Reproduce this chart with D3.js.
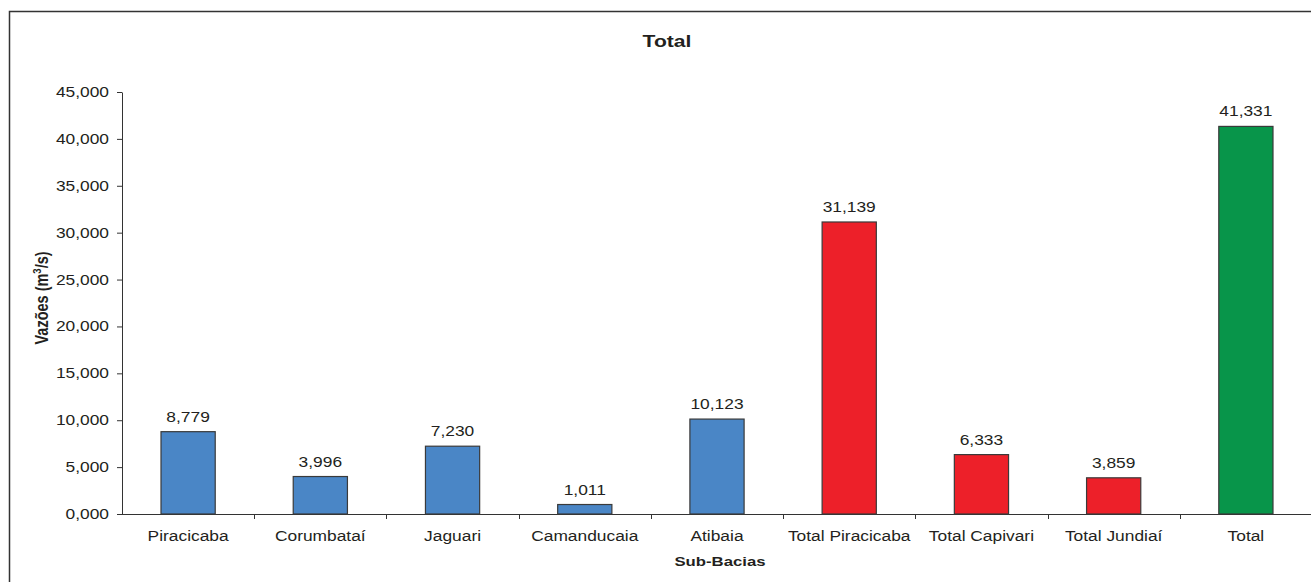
<!DOCTYPE html>
<html>
<head>
<meta charset="utf-8">
<script src="https://cdn.jsdelivr.net/npm/d3@7"></script>
<style>
  html, body { margin: 0; padding: 0; background: #fff; }
  svg { display: block; }
  text { font-family: "Liberation Sans", Arial, sans-serif; fill: #231f20; }
</style>
</head>
<body>
<svg id="chart" width="1311" height="582"></svg>
<script>
// Vazões por sub-bacia (m³/s)
const categories = ["Piracicaba", "Corumbataí", "Jaguari", "Camanducaia", "Atibaia",
                    "Total Piracicaba", "Total Capivari", "Total Jundiaí", "Total"];
const values = [8.779, 3.996, 7.230, 1.011, 10.123, 31.139, 6.333, 3.859, 41.331];
const groups = ["sub", "sub", "sub", "sub", "sub", "bacia", "bacia", "bacia", "total"];
const yTicks = [0, 5, 10, 15, 20, 25, 30, 35, 40, 45];
const titleText = "Total";
const xTitle = "Sub-Bacias";

const groupColor = { sub: "#4a86c6", bacia: "#ed2029", total: "#08954a" };

const ptBR = d3.formatLocale({ decimal: ",", thousands: ".", grouping: [3], currency: ["R$", ""] });
const fmt = ptBR.format(".3f");

const svg = d3.select("#chart");
const plot = { left: 122, right: 1312, top: 92, bottom: 514 };

// Widen glyphs horizontally
function widen(sel, k) {
  sel.each(function () {
    const w = this.getComputedTextLength();
    d3.select(this).attr("textLength", w * k).attr("lengthAdjust", "spacingAndGlyphs");
  });
}
const K = 1.24;

// Outer frame
svg.append("rect")
  .attr("x", 9.5).attr("y", 11.5).attr("width", 1330).attr("height", 600)
  .attr("fill", "none").attr("stroke", "#333").attr("stroke-width", 1.5);

const x = d3.scaleBand().domain(categories)
  .range([plot.left, plot.right]).paddingInner(0.59).paddingOuter(0.295);
const y = d3.scaleLinear().domain([0, 45]).range([plot.bottom, plot.top]);

// Y axis
const yAxis = svg.append("g")
  .attr("transform", `translate(${plot.left},0)`)
  .call(d3.axisLeft(y).tickValues(yTicks).tickSize(5).tickSizeOuter(0).tickPadding(8).tickFormat(fmt));
yAxis.select(".domain").attr("stroke", "#333");
yAxis.selectAll(".tick line").attr("stroke", "#333");
yAxis.selectAll(".tick text").attr("font-size", 14).attr("fill", "#231f20")
  .style("font-family", '"Liberation Sans", Arial, sans-serif');
widen(yAxis.selectAll(".tick text"), K);

// X axis line and separator ticks between categories
const step = x.step();
svg.append("line")
  .attr("x1", plot.left).attr("x2", plot.right)
  .attr("y1", plot.bottom + 0.5).attr("y2", plot.bottom + 0.5)
  .attr("stroke", "#333");
svg.append("g").selectAll("line")
  .data(categories.slice(1))
  .join("line")
  .attr("x1", d => Math.round(x(d) - step * x.paddingInner() / 2) + 0.5)
  .attr("x2", d => Math.round(x(d) - step * x.paddingInner() / 2) + 0.5)
  .attr("y1", plot.bottom).attr("y2", plot.bottom + 5)
  .attr("stroke", "#333");

// Category labels
const catLabels = svg.append("g").selectAll("text")
  .data(categories)
  .join("text")
  .attr("x", d => x(d) + x.bandwidth() / 2)
  .attr("y", 541)
  .attr("text-anchor", "middle")
  .attr("font-size", 14)
  .text(d => d);
widen(catLabels, K);

// Bars
const data = categories.map((c, i) => ({ c, v: values[i], g: groups[i] }));
svg.append("g").selectAll("rect")
  .data(data)
  .join("rect")
  .attr("x", d => x(d.c))
  .attr("y", d => y(d.v))
  .attr("width", x.bandwidth())
  .attr("height", d => y(0) - y(d.v))
  .attr("fill", d => groupColor[d.g])
  .attr("stroke", "#3a3a3a")
  .attr("stroke-width", 1.2);

// Value labels
const valLabels = svg.append("g").selectAll("text")
  .data(data)
  .join("text")
  .attr("x", d => x(d.c) + x.bandwidth() / 2)
  .attr("y", d => y(d.v) - 10)
  .attr("text-anchor", "middle")
  .attr("font-size", 14)
  .text(d => fmt(d.v));
widen(valLabels, K);

// Title
const t = svg.append("text")
  .attr("x", 667).attr("y", 47)
  .attr("text-anchor", "middle")
  .attr("font-size", 17).attr("font-weight", "bold")
  .text(titleText);
widen(t, K);

// X axis title
const xt = svg.append("text")
  .attr("x", 720).attr("y", 566)
  .attr("text-anchor", "middle")
  .attr("font-size", 13.5).attr("font-weight", "bold")
  .text(xTitle);
widen(xt, K);

// Y axis title with superscript (glyphs widened across the rotated baseline)
const yt = svg.append("text")
  .attr("transform", `translate(48,298) scale(${K},1) rotate(-90)`)
  .attr("text-anchor", "middle")
  .attr("font-size", 14.5).attr("font-weight", "bold");
yt.append("tspan").text("Vazões (m");
yt.append("tspan").attr("font-size", 9.5).attr("dy", -6).text("3");
yt.append("tspan").attr("dy", 6).text("/s)");
</script>
</body>
</html>
